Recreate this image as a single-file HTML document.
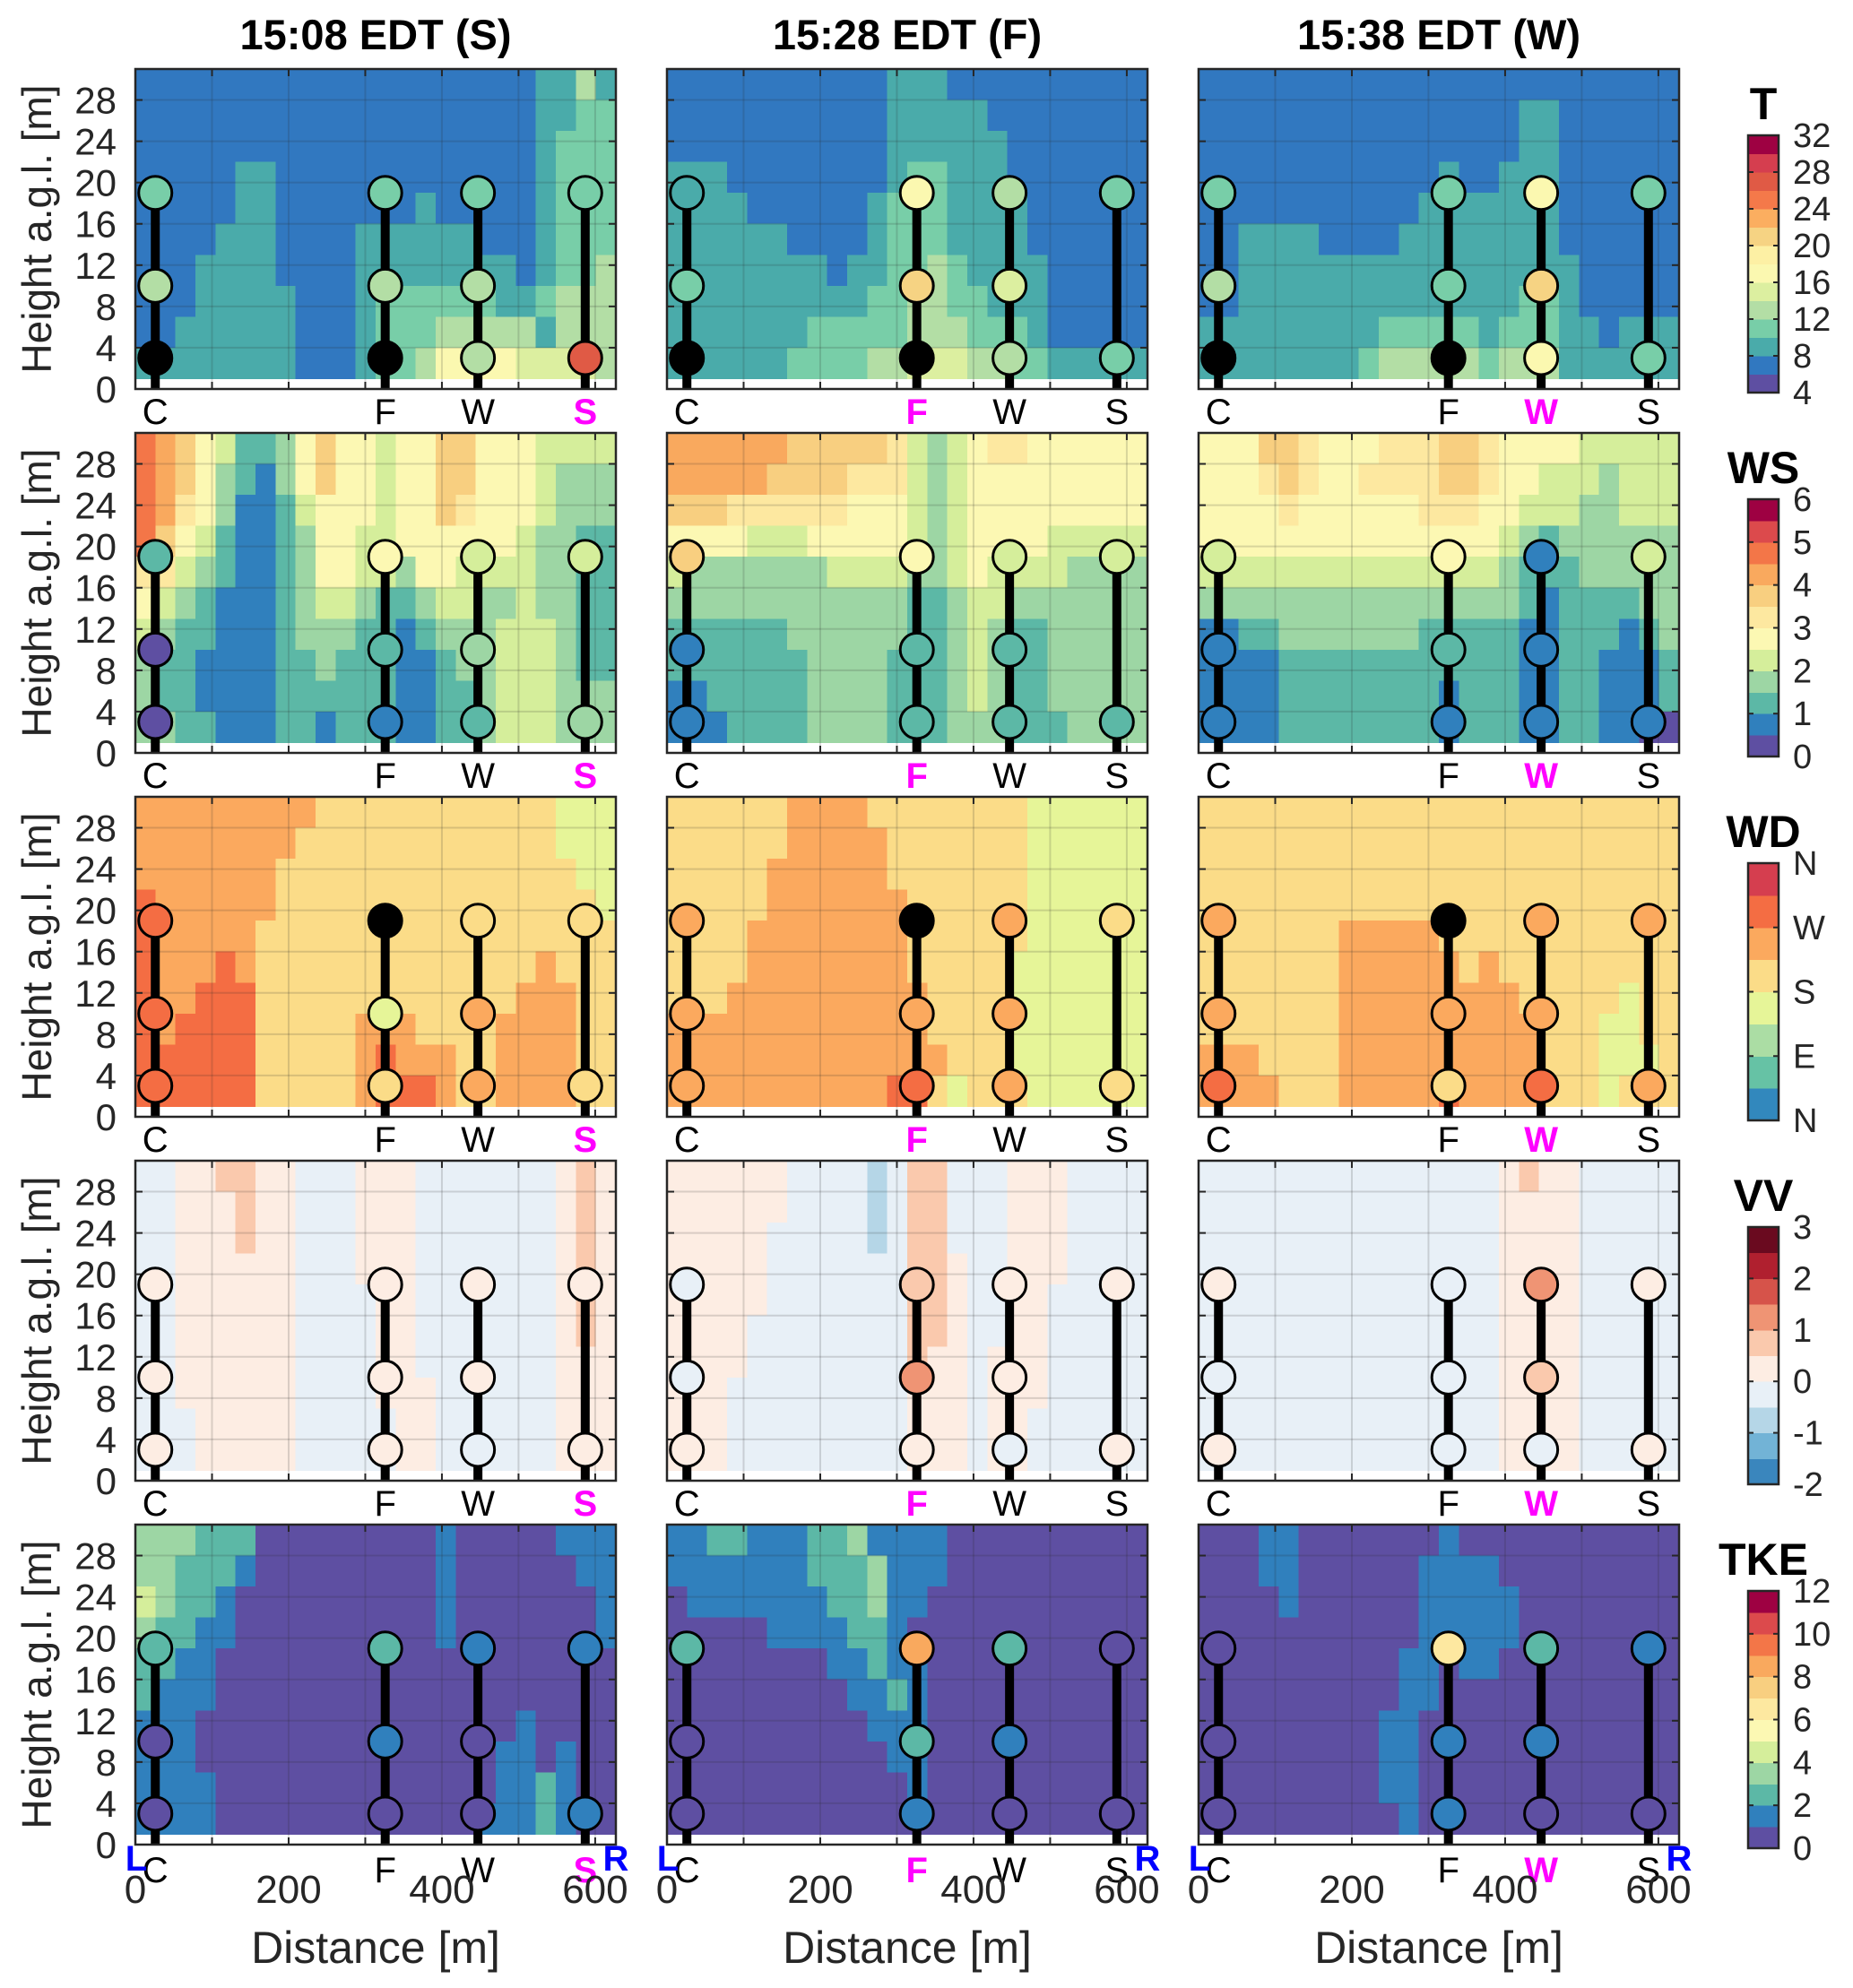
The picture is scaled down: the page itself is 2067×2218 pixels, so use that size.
<!DOCTYPE html>
<html><head><meta charset="utf-8"><title>Transects</title>
<style>
html,body{margin:0;padding:0;background:#fff;}
svg{display:block;font-family:"Liberation Sans",Arial,sans-serif;}
</style></head>
<body>
<svg id="fig" xmlns="http://www.w3.org/2000/svg" width="2067" height="2218" viewBox="0 0 2067 2218"></svg>
<script>
// ---------- data ----------
const panelTitles=['15:08 EDT (S)','15:28 EDT (F)','15:38 EDT (W)'];
const activeStation=['S','F','W'];
const stationNames=['C','F','W','S'];
const stationDist=[26,326,447,587];
const sensorHeights=[19,10,3];
const sensorHeightsS=[19,3];
const yTickValues=[0,4,8,12,16,20,24,28];
const xTickValues=[0,100,200,300,400,500,600];
const xTickLabels=[0,200,400,600];
const rowTitles=['T','WS','WD','VV','TKE'];
const tLabels=['32','28','24','20','16','12','8','4'];
const wsLabels=['6','5','4','3','2','1','0'];
const wdLabels=['N','W','S','E','N'];
const vvLabels=['3','2','1','0','-1','-2'];
const tkeLabels=['12','10','8','6','4','2','0'];

// gridded sections: strings top(28-31 m) -> bottom(1-4 m), chars = colour bin
const tSec1=["111111111111111111112242","111111111111111111112233","111111111111111111112333","111112211111111111112333","111112211111112111112333","111122211112222221112333","111222211112222222212334","111222221112333333223444","112222221112333444442444","222222221112334666655554"];
const tSec2=["111111111112221111111111","111111111112222211111111","111111111112222221111111","222111111112332221111111","222211111123332222111111","222222111123332222111111","222222221223343222211111","222222222233443322211111","222222233333444333211111","222222333344555443322222"];
const tSec3=["111111111111111111111111","111111111111111122111111","111111111111111122111111","111111111111211222111111","111111111112222222111111","112222111122222222111111","112222222222222222211111","112222222222222233211111","222222222333332333221222","222222223444443444222222"];
const wsSec1=["987542235755455775554444","987532135755455775554333","986531124555455765554333","975421123554455555543322","664321123554435544443322","543211123443223443343322","432211123332212333444322","322111122322211233444322","322111122222211223444333","332211122122211223444333"];
const wsSec2=["888888777776434566555555","888887777666434555555555","777666666555434555555555","555544455555434555544444","433333334444334544443333","333333333333223443333333","222222333333223432233333","222222233332223432233333","112222233332223432233333","111222233332223332223333"];
const wsSec3=["555776555666776555544444","555676556666776554443444","555565555556665544433444","555555555555555432333333","444444444444444322233333","333333333333333321222233","112233333332222211222123","111122222222222211221112","111122222222122211221112","111122222222122211221100"];
const wdSec1=["555555555444444444444333","555555554444444444444333","555555544444444444444433","655555544444444444444443","655555444444444444444444","655565444444444444445444","655666444444444444455544","656666444445554444555544","666666444445655544555544","666666444445666544555544"];
const wdSec2=["444444555544444444333333","444444555554444444333333","444445555554444444333333","444445555555444444333333","444455555555444444333333","444455555555444443333333","444555555555544443333333","555555555555544443333333","555555555555554443333333","555555555556643444333333"];
const wdSec3=["444444444444444444444444","444444444444444444444444","444444444444444444444444","444444444444444444444444","444444455555444444444444","444444455555545444444444","444444455555555544444344","444444455555555554443344","555444455555555554443334","555544455555655554443444"];
const vvSec1=["334455443334443333333454","334445443334443333333454","334445443334443333333454","334444443334443333333454","334444443333443333333454","334444443333443333333454","334444443333443333333444","334444443333444333333444","333444443333344333333444","333444443333344333333444"];
const vvSec2=["444444333323553334443333","444444333323553334443333","444443333323553334443333","444443333333554334443333","444443333333554334433333","444433333333554334433333","444433333333544344433333","444333333333444344433333","444333333333444344333333","444333333333444344333333"];
const vvSec3=["333333333333333454433333","333333333333333444433333","333333333333333444433333","333333333333333444433333","333333333333333444433333","333333333333333444433333","333333333333333444433333","333333333333333444433333","333333333333333444433333","333333333333333444433333"];
const tkeSec1=["333222000000000100000111","332221000000000100000011","432210000000000100000001","322110000000000100000001","221100000000000000000000","211100000000000000000000","111000000000000000010000","111000000000000000110100","111100000000000000112100","111100000000000001112100"];
const tkeSec2=["112211122311110000000000","111111122231110000000000","011111112231100000000000","000001111221000000000000","000000001121100000000000","000000000112100000000000","000000000011100000000000","000000000001100000000000","000000000000100000000000","000000000000000000000000"];
const tkeSec3=["000110000000100000000000","000110000001111000000000","000010000001111100000000","000000000001111100000000","000000000011011000000000","000000000011000000000000","000000000110000000000000","000000000110000000000000","000000000110000000000000","000000000010000000000000"];

// sensor values [19 m, 10 m, 3 m]; S has [19 m, 3 m]; null = missing (black)
const tC=[[11,13,null],[9,11,null],[11,13,null]];
const tF=[[11,13,null],[17,21,null],[11,11,null]];
const tW=[[11,13,13],[13,15,13],[17,21,17]];
const tS=[[11,27],[11,11],[11,11]];
const wsC=[[1.25,0.25,0.25],[3.75,0.75,0.75],[2.25,0.75,0.75]];
const wsF=[[2.75,1.25,0.75],[2.75,1.25,1.25],[2.75,1.25,0.75]];
const wsW=[[2.25,1.75,1.25],[2.25,1.25,1.25],[0.75,0.75,0.75]];
const wsS=[[2.25,1.75],[2.25,1.25],[2.25,0.75]];
const wdC=[[290,290,290],[250,250,250],[250,250,290]];
const wdF=[[null,160,200],[null,250,290],[null,250,200]];
const wdW=[[200,250,250],[250,250,250],[250,250,290]];
const wdS=[[200,200],[200,200],[250,250]];
const vvC=[[0.25,0.25,0.25],[-0.25,-0.25,0.25],[0.25,-0.25,0.25]];
const vvF=[[0.25,0.25,0.25],[0.75,1.25,0.25],[-0.25,-0.25,-0.25]];
const vvW=[[0.25,0.25,-0.25],[0.25,0.25,-0.25],[1.25,0.75,-0.25]];
const vvS=[[0.25,0.25],[0.25,0.25],[0.25,0.25]];
const tkeC=[[2.5,0.5,0.5],[2.5,0.5,0.5],[0.5,0.5,0.5]];
const tkeF=[[2.5,1.5,0.5],[8.5,2.5,1.5],[6.5,1.5,1.5]];
const tkeW=[[1.5,0.5,0.5],[2.5,1.5,0.5],[2.5,1.5,0.5]];
const tkeS=[[1.5,1.5],[0.5,0.5],[1.5,0.5]];

// ---------- styling / layout ----------
const tColors=['#5e4fa2','#3178c0','#4aabaa','#78cea8','#b3dea5','#dcefa0','#fbf8b0','#fdf0a4','#f6d383','#fbae60','#f4794a','#e05a45','#d53e4f','#9e0142'];
const wsColors=['#5e4fa2','#3080bd','#5cb8a6','#9dd6a4','#d5ee9b','#fcf8b3','#fde8a0','#f8cf80','#f9a95e','#f37648','#dc4a4c','#9e0142'];
const wdColors=['#3288bd','#66c2a5','#abdda4','#e6f598','#fbdc88','#fba95e','#f46d43','#d53e4f'];
const vvColors=['#3a86bd','#72b3d6','#b5d6e7','#e8f0f7','#fdede3','#fac9ad','#ef9474','#d6534a','#b0202f','#6a0a1f'];
const rowDefs=[
 {sec:[tSec1,tSec2,tSec3],C:tC,F:tF,W:tW,S:tS,colors:tColors,min:4,max:32,labels:tLabels,key:'t'},
 {sec:[wsSec1,wsSec2,wsSec3],C:wsC,F:wsF,W:wsW,S:wsS,colors:wsColors,min:0,max:6,labels:wsLabels,key:'ws'},
 {sec:[wdSec1,wdSec2,wdSec3],C:wdC,F:wdF,W:wdW,S:wdS,colors:wdColors,min:0,max:360,labels:wdLabels,key:'wd'},
 {sec:[vvSec1,vvSec2,vvSec3],C:vvC,F:vvF,W:vvW,S:vvS,colors:vvColors,min:-2,max:3,labels:vvLabels,key:'vv'},
 {sec:[tkeSec1,tkeSec2,tkeSec3],C:tkeC,F:tkeF,W:tkeW,S:tkeS,colors:wsColors,min:0,max:12,labels:tkeLabels,key:'tke'}
];
const colLeft=[151,744,1337], PW=536, PH=357;
const rowTop=[77,483,889,1295,1701];
const XMAX=627, YMAX=31;
const NS='http://www.w3.org/2000/svg';
const svg=document.getElementById('fig');
function mk(tag,attrs,parent,text){const e=document.createElementNS(NS,tag);for(const k in attrs)e.setAttribute(k,attrs[k]);if(text!==undefined)e.textContent=text;(parent||svg).appendChild(e);return e;}
function colorOf(def,v){if(v===null)return '#000';const n=def.colors.length;let b=Math.floor((v-def.min)/(def.max-def.min)*n);b=Math.max(0,Math.min(n-1,b));return def.colors[b];}

rowDefs.forEach((def,r)=>{
  const top=rowTop[r];
  for(let c=0;c<3;c++){
    const left=colLeft[c];
    const xs=m=>left+m*PW/XMAX;
    const ys=h=>top+PH-h*PH/YMAX;
    const g=mk('g',{});
    
    
    mk('rect',{x:left,y:top,width:PW,height:PH,fill:'#fff'},g);
    const sec=def.sec[c];
    sec.forEach((rowStr,i)=>{
      const n=rowStr.length, dw=XMAX/n;
      const h1=YMAX-i*3, h0=h1-3;
      for(let j=0;j<n;j++){
        const bin=parseInt(rowStr[j],36);
        const cell=mk('rect',{x:xs(j*dw),y:ys(h1),width:xs((j+1)*dw)-xs(j*dw)+0.6,height:ys(h0)-ys(h1)+0.6,fill:def.colors[bin],'shape-rendering':'crispEdges'},g);
        
        
      }
    });
    xTickValues.forEach(v=>{
      if(v>0) mk('line',{x1:xs(v),x2:xs(v),y1:top,y2:top+PH,stroke:'rgba(40,40,40,0.17)','stroke-width':2},g);
      mk('line',{x1:xs(v),x2:xs(v),y1:top+PH,y2:top+PH-8,stroke:'#262626','stroke-width':2},g);
      mk('line',{x1:xs(v),x2:xs(v),y1:top,y2:top+8,stroke:'#262626','stroke-width':2},g);
    });
    yTickValues.forEach(v=>{
      if(v>0) mk('line',{x1:left,x2:left+PW,y1:ys(v),y2:ys(v),stroke:'rgba(40,40,40,0.17)','stroke-width':2},g);
      mk('line',{x1:left,x2:left+8,y1:ys(v),y2:ys(v),stroke:'#262626','stroke-width':2},g);
      mk('line',{x1:left+PW,x2:left+PW-8,y1:ys(v),y2:ys(v),stroke:'#262626','stroke-width':2},g);
    });
    stationNames.forEach(st=>{
      const x=xs(stationDist[stationNames.indexOf(st)]);
      const tw=mk('rect',{x:x-5,y:ys(19),width:10,height:ys(0)-ys(19),fill:'#000'},g);
      
      
      const vals=def[st][c];
      const hs=st==='S'?sensorHeightsS:sensorHeights;
      hs.forEach((h,k)=>{
        const ci=mk('circle',{cx:x,cy:ys(h),r:18.5,fill:colorOf(def,vals[k]),stroke:'#000','stroke-width':3},g);
        
        
      });
      const lab=mk('text',{x:x,y:top+PH+(r===4?42:39),'text-anchor':'middle','font-size':40,'font-weight':st===activeStation[c]?'bold':'normal',fill:st===activeStation[c]?'#ff00ff':'#000'},g,st);
      
      
    });
    const box=mk('rect',{x:left,y:top,width:PW,height:PH,fill:'none',stroke:'#262626','stroke-width':2.5},g);
    
    
    if(c===0){
      yTickValues.forEach(v=>{
        const t=mk('text',{x:left-21,y:ys(v)+15,'text-anchor':'end','font-size':42,fill:'#262626'},g,String(v));
        
        
      });
    }
    if(r===0){
      const tt=mk('text',{x:left+PW/2,y:55,'text-anchor':'middle','font-size':47,'font-weight':'bold',fill:'#000'},svg,panelTitles[c]);
      
      
    }
    if(r===4){
      xTickLabels.forEach(v=>{
        const t=mk('text',{x:xs(v),y:2123,'text-anchor':'middle','font-size':44,fill:'#262626'},svg,String(v));
        
        
      });
      const xl=mk('text',{x:left+PW/2,y:2190,'text-anchor':'middle','font-size':50,fill:'#262626'},svg,'Distance [m]');
      
      
      const L=mk('text',{x:left+1,y:2087,'text-anchor':'middle','font-size':40,'font-weight':'bold',fill:'#0000ff'},svg,'L');
      
      
      const R=mk('text',{x:left+PW,y:2087,'text-anchor':'middle','font-size':40,'font-weight':'bold',fill:'#0000ff'},svg,'R');
      
      
    }
  }
  const yt=mk('text',{x:0,y:0,transform:'translate(57,'+(top+PH/2)+') rotate(-90)','text-anchor':'middle','font-size':46,fill:'#262626'},svg,'Height a.g.l. [m]');
  
  
  const cbTop=top+74, cbH=287, cbX=1950, cbW=34;
  const cg=mk('g',{});
  
  
  const n=def.colors.length;
  def.colors.forEach((col,k)=>{
    mk('rect',{x:cbX,y:cbTop+cbH-(k+1)*cbH/n,width:cbW,height:cbH/n+0.5,fill:col,'shape-rendering':'crispEdges'},cg);
  });
  mk('rect',{x:cbX,y:cbTop,width:cbW,height:cbH,fill:'none',stroke:'#262626','stroke-width':2.5},cg);
  def.labels.forEach((lb,k)=>{
    const y=cbTop+k*cbH/(def.labels.length-1);
    mk('line',{x1:cbX,x2:cbX+6,y1:y,y2:y,stroke:'#262626','stroke-width':2},cg);
    mk('line',{x1:cbX+cbW,x2:cbX+cbW-6,y1:y,y2:y,stroke:'#262626','stroke-width':2},cg);
    const t=mk('text',{x:2000,y:y+13,'font-size':38,fill:'#262626'},cg,lb);
    
    
  });
  const ct=mk('text',{x:1967,y:cbTop-18,'text-anchor':'middle','font-size':50,'font-weight':'bold',fill:'#000'},cg,rowTitles[r]);
  
  
});
</script>
</body></html>
